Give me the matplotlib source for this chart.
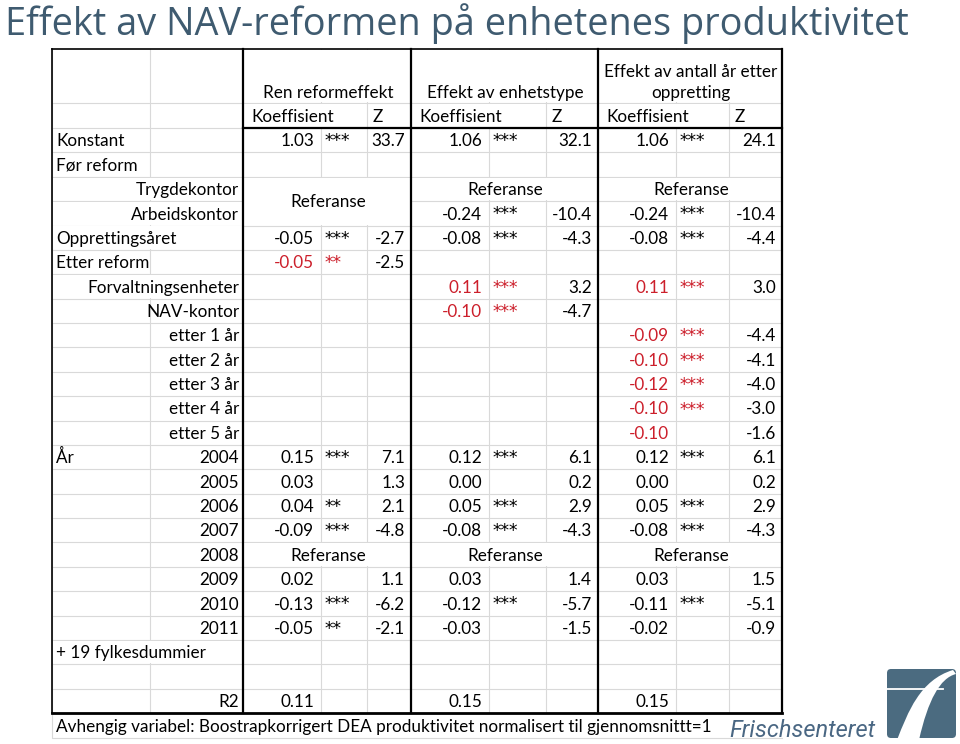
import numpy as np
import matplotlib.pyplot as plt
from matplotlib.patches import Rectangle, FancyBboxPatch, PathPatch
from matplotlib.path import Path

plt.rcParams['font.family'] = ['Lato', 'DejaVu Sans']

nan = np.nan

title = "Effekt av NAV-reformen på enhetenes produktivitet"
footnote = "Avhengig variabel: Boostrapkorrigert DEA produktivitet normalisert til gjennomsnittt=1"
model_names = ["Ren reformeffekt", "Effekt av enhetstype", "Effekt av antall år etter\noppretting"]

# row labels (left-aligned and right-aligned columns)
labels_left = ["Konstant", "Før reform", "", "", "Opprettingsåret", "Etter reform",
               "", "", "", "", "", "", "", "År", "", "", "", "", "", "", "",
               "+ 19 fylkesdummier", "", ""]
labels_right = ["", "", "Trygdekontor", "Arbeidskontor", "", "", "Forvaltningsenheter",
                "NAV-kontor", "etter 1 år", "etter 2 år", "etter 3 år", "etter 4 år",
                "etter 5 år", "2004", "2005", "2006", "2007", "2008", "2009", "2010",
                "2011", "", "", "R2"]

# model 1: Ren reformeffekt
coef_ren = [1.03, nan, nan, nan, -0.05, -0.05, nan, nan, nan, nan, nan, nan, nan,
            0.15, 0.03, 0.04, -0.09, nan, 0.02, -0.13, -0.05, nan, nan, 0.11]
stars_ren = ["***", "", "", "", "***", "**", "", "", "", "", "", "", "",
             "***", "", "**", "***", "", "", "***", "**", "", "", ""]
z_ren = [33.7, nan, nan, nan, -2.7, -2.5, nan, nan, nan, nan, nan, nan, nan,
         7.1, 1.3, 2.1, -4.8, nan, 1.1, -6.2, -2.1, nan, nan, nan]
ref_ren = [(2, 2), (17, 1)]
red_ren = [5]

# model 2: Effekt av enhetstype
coef_enh = [1.06, nan, nan, -0.24, -0.08, nan, 0.11, -0.10, nan, nan, nan, nan, nan,
            0.12, 0.00, 0.05, -0.08, nan, 0.03, -0.12, -0.03, nan, nan, 0.15]
stars_enh = ["***", "", "", "***", "***", "", "***", "***", "", "", "", "", "",
             "***", "", "***", "***", "", "", "***", "", "", "", ""]
z_enh = [32.1, nan, nan, -10.4, -4.3, nan, 3.2, -4.7, nan, nan, nan, nan, nan,
         6.1, 0.2, 2.9, -4.3, nan, 1.4, -5.7, -1.5, nan, nan, nan]
ref_enh = [(2, 1), (17, 1)]
red_enh = [6, 7]

# model 3: Effekt av antall år etter oppretting
coef_ant = [1.06, nan, nan, -0.24, -0.08, nan, 0.11, nan, -0.09, -0.10, -0.12, -0.10, -0.10,
            0.12, 0.00, 0.05, -0.08, nan, 0.03, -0.11, -0.02, nan, nan, 0.15]
stars_ant = ["***", "", "", "***", "***", "", "***", "", "***", "***", "***", "***", "",
             "***", "", "***", "***", "", "", "***", "", "", "", ""]
z_ant = [24.1, nan, nan, -10.4, -4.4, nan, 3.0, nan, -4.4, -4.1, -4.0, -3.0, -1.6,
         6.1, 0.2, 2.9, -4.3, nan, 1.5, -5.1, -0.9, nan, nan, nan]
ref_ant = [(2, 1), (17, 1)]
red_ant = [6, 8, 9, 10, 11, 12]

models = [(coef_ren, stars_ren, z_ren, ref_ren, red_ren),
          (coef_enh, stars_enh, z_enh, ref_enh, red_enh),
          (coef_ant, stars_ant, z_ant, ref_ant, red_ant)]

# layout (pixels)
col_x = [52, 150, 243, 321, 367, 411, 489, 546, 598, 676, 729, 782]
group_x = [(243, 321, 367, 411), (411, 489, 546, 598), (598, 676, 729, 782)]
y_top, y_hdr, y_body, y_bot, y_foot = 49, 103, 128, 713, 738
n_rows = len(labels_left)
row_h = (y_bot - y_body) / n_rows
overflow_rows = [2, 3, 4, 6, 21]

grid = '#d9d9d9'
red = '#cc1f2b'
blue = '#3f5b70'
fs = 12.3

fig = plt.figure(figsize=(9.6, 7.44), dpi=100)
ax = fig.add_axes([0, 0, 1, 1])
ax.set_xlim(0, 960)
ax.set_ylim(744, 0)
ax.axis('off')


def row_top(i):
    return y_body + i * row_h


# light gridlines
for y in [y_hdr, y_body] + [row_top(i) for i in range(1, n_rows)]:
    ax.plot([col_x[0], col_x[-1]], [y, y], color=grid, lw=0.8, zorder=1)
for x in col_x:
    ax.plot([x, x], [y_top, y_bot], color=grid, lw=0.8, zorder=1)
# footer box
ax.plot([52, 52, 782], [y_bot, y_foot, y_foot], color=grid, lw=0.8, zorder=1)


def blank(x0, x1, y0, y1):
    ax.add_patch(Rectangle((x0 + 0.8, y0 + 0.8), x1 - x0 - 1.6, y1 - y0 - 1.6,
                           facecolor='white', edgecolor='none', zorder=2))


# merged cells
for g0, g1, g2, g3 in group_x:
    blank(g0, g3, y_top, y_hdr)
    blank(g0, g2, y_hdr, y_body)
for r in overflow_rows:
    blank(52, 243, row_top(r), row_top(r + 1))
for (g0, g1, g2, g3), m in zip(group_x, models):
    for r, n in m[3]:
        blank(g0, g3, row_top(r), row_top(r + n))

# heavy lines
ax.plot([52, 782], [y_top, y_top], color='black', lw=1.2, zorder=3)
ax.plot([52, 52], [y_top, y_bot], color='black', lw=1.2, zorder=3)
ax.plot([52, 782], [y_bot, y_bot], color='black', lw=2.0, zorder=3)
ax.plot([243, 782], [y_body, y_body], color='black', lw=1.6, zorder=3)
for x in [243, 411, 598, 782]:
    ax.plot([x, x], [y_top, y_bot], color='black', lw=1.6, zorder=3)

# title
ax.text(5, 35, title, fontsize=27.3, color=blue, va='baseline', ha='left',
        family=['Open Sans', 'DejaVu Sans'], zorder=4)

# header text
for (g0, g1, g2, g3), name in zip(group_x, model_names):
    ax.text((g0 + g3) / 2 + 1, 98, name, fontsize=fs, ha='center', va='baseline',
            linespacing=1.4, zorder=4)
    ax.text(g0 + 8, y_body - 6, "Koeffisient", fontsize=fs, ha='left', va='baseline', zorder=4)
    ax.text(g2 + 6, y_body - 6, "Z", fontsize=fs, ha='left', va='baseline', zorder=4)

# row labels
for i in range(n_rows):
    base = row_top(i + 1) - 6
    if labels_left[i]:
        ax.text(56, base, labels_left[i], fontsize=fs, ha='left', va='baseline', zorder=4)
    if labels_right[i]:
        ax.text(239, base, labels_right[i], fontsize=fs, ha='right', va='baseline', zorder=4)

# model values
for (g0, g1, g2, g3), (coef, stars, z, refs, reds) in zip(group_x, models):
    for i in range(n_rows):
        base = row_top(i + 1) - 6
        c = red if i in reds else 'black'
        if not np.isnan(coef[i]):
            ax.text(g1 - 7, base, f"{coef[i]:.2f}", fontsize=fs, ha='right',
                    va='baseline', color=c, zorder=4)
        if stars[i]:
            ax.text(g1 + 4, base, stars[i], fontsize=fs, ha='left', family='DejaVu Sans',
                    va='baseline', color=c, zorder=4)
        if not np.isnan(z[i]):
            ax.text(g3 - 6, base, f"{z[i]:.1f}", fontsize=fs, ha='right',
                    va='baseline', zorder=4)
    for r, n in refs:
        ax.text((g0 + g3) / 2 + 1, (row_top(r) + row_top(r + n)) / 2 + 1, "Referanse",
                fontsize=fs, ha='center', va='center', zorder=4)

# footnote
ax.text(56, y_foot - 6, footnote, fontsize=fs, ha='left', va='baseline', zorder=4)

# logo
ax.text(729, 737, "Frischsenteret", fontsize=17, style='italic', color='#4a6783',
        family=['Roboto', 'DejaVu Sans'], ha='left', va='baseline', zorder=4)
ax.add_patch(FancyBboxPatch((887, 669), 69, 69, boxstyle='round,pad=0,rounding_size=4',
                            facecolor='#4b6b80', edgecolor='none', zorder=4))
stroke = Path([(897, 740), (908, 712), (920, 680), (953, 670),
               (956, 674), (940, 678), (928, 700), (919, 740), (897, 740)],
              [Path.MOVETO, Path.CURVE4, Path.CURVE4, Path.CURVE4,
               Path.LINETO, Path.CURVE4, Path.CURVE4, Path.CURVE4, Path.CLOSEPOLY])
ax.add_patch(PathPatch(stroke, facecolor='white', edgecolor='none', zorder=5))
ax.plot([887, 943], [689, 689], color='white', lw=1.3, zorder=5)

fig.savefig('out.png', dpi=100)
